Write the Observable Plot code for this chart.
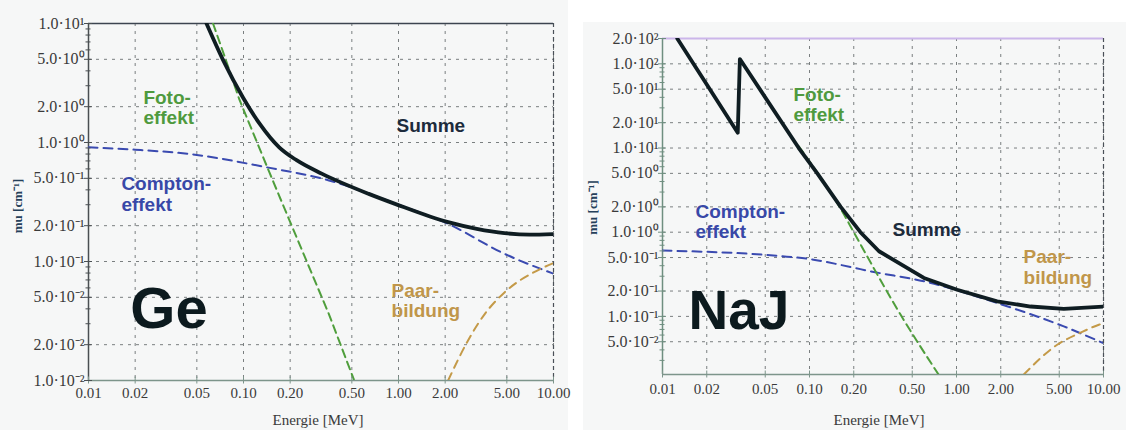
<!DOCTYPE html>
<html><head><meta charset="utf-8">
<script src="https://cdn.jsdelivr.net/npm/d3@7"></script>
<script src="https://cdn.jsdelivr.net/npm/@observablehq/plot@0.6"></script>
<style>
html,body{margin:0;padding:0;background:#fff;width:1126px;height:430px;overflow:hidden;}
#left{position:absolute;left:0;top:0;}
#right{position:absolute;left:583px;top:22px;}
</style></head><body>
<div id="left"></div><div id="right"></div>
<script>
// ---- shared x axis ----
const xTicks = [0.01, 0.02, 0.05, 0.1, 0.2, 0.5, 1, 2, 5, 10];
const xTickLabels = ["0.01", "0.02", "0.05", "0.10", "0.20", "0.50", "1.00", "2.00", "5.00", "10.00"];

// ---- Ge ----
const geYTicks = [10, 5, 2, 1, 0.5, 0.2, 0.1, 0.05, 0.02, 0.01];
const geYTickLabels = ["1.0·10¹", "5.0·10⁰", "2.0·10⁰", "1.0·10⁰", "5.0·10⁻¹", "2.0·10⁻¹", "1.0·10⁻¹", "5.0·10⁻²", "2.0·10⁻²", "1.0·10⁻²"];
const geSummeE  = [0.0577, 0.074, 0.099, 0.127, 0.170, 0.22, 0.322, 0.643, 0.95, 2.09, 3.2, 4.83, 7, 10];
const geSummeMu = [10, 4.9, 2.4, 1.44, 0.91, 0.71, 0.545, 0.37, 0.305, 0.214, 0.188, 0.173, 0.168, 0.17];
const geFotoE   = [0.0636, 0.0755, 0.094, 0.147, 0.197, 0.356, 0.515];
const geFotoMu  = [10, 5.3, 2.3, 0.56, 0.225, 0.036, 0.0102];
const geComptonE  = [0.01, 0.02, 0.045, 0.14, 0.356, 1.0, 2.09, 4.83, 10];
const geComptonMu = [0.91, 0.87, 0.80, 0.62, 0.48, 0.30, 0.207, 0.116, 0.079];
const gePaarE  = [2.09, 2.81, 3.59, 4.83, 8.3, 10];
const gePaarMu = [0.01, 0.0217, 0.036, 0.055, 0.087, 0.097];
const geNotes = [
  {key: "foto", label: "Foto-\neffekt", E: 0.0226, mu: 1.97},
  {key: "compton", label: "Compton-\neffekt", E: 0.0163, mu: 0.369},
  {key: "summe", label: "Summe", E: 0.971, mu: 1.39},
  {key: "paar", label: "Paar-\nbildung", E: 0.902, mu: 0.047}
];
const geTitle = [{label: "Ge", E: 0.0186, mu: 0.0395}];

// ---- NaJ ----
const najYTicks = [200, 100, 50, 20, 10, 5, 2, 1, 0.5, 0.2, 0.1, 0.05];
const najYTickLabels = ["2.0·10²", "1.0·10²", "5.0·10¹", "2.0·10¹", "1.0·10¹", "5.0·10⁰", "2.0·10⁰", "1.0·10⁰", "5.0·10⁻¹", "2.0·10⁻¹", "1.0·10⁻¹", "5.0·10⁻²"];
const najSummeE  = [0.0126, 0.0325, 0.0336, 0.0845, 0.113, 0.163, 0.222, 0.297, 0.6, 1.01, 1.89, 3.19, 5.37, 10];
const najSummeMu = [200, 15.2, 114, 10, 5, 2, 1, 0.594, 0.286, 0.207, 0.151, 0.131, 0.123, 0.131];
const najFotoE   = [0.0845, 0.113, 0.163, 0.2, 0.416, 0.783];
const najFotoMu  = [10.5, 5.1, 1.9, 1.0, 0.105, 0.0185];
const najComptonE  = [0.01, 0.0636, 0.1, 0.19, 0.26, 0.6, 1.89, 5.37, 10];
const najComptonMu = [0.605, 0.52, 0.48, 0.386, 0.343, 0.261, 0.144, 0.076, 0.048];
const najPaarE  = [2.87, 4.84, 6.98, 9.3, 10];
const najPaarMu = [0.0204, 0.046, 0.064, 0.0796, 0.083];
const najNotes = [
  {key: "foto", label: "Foto-\neffekt", E: 0.0778, mu: 33},
  {key: "compton", label: "Compton-\neffekt", E: 0.01677, mu: 1.35},
  {key: "summe", label: "Summe", E: 0.367, mu: 1.086},
  {key: "paar", label: "Paar-\nbildung", E: 2.86, mu: 0.388}
];
const najTitle = [{label: "NaJ", E: 0.01503, mu: 0.115}];

// ---- styles ----
const lineStyle = {
  summe:   {stroke: "#0f1d22", strokeWidth: 3.8},
  foto:    {stroke: "#4f9e3c", strokeWidth: 2, strokeDasharray: "8,5"},
  compton: {stroke: "#3a4ab0", strokeWidth: 2, strokeDasharray: "9,6"},
  paar:    {stroke: "#c49a48", strokeWidth: 2, strokeDasharray: "8,6"}
};
const noteColor = {foto: "#4f9a3e", compton: "#3848a8", summe: "#1c2b3c", paar: "#c0964a"};
const sans = "'Liberation Sans', Arial, Helvetica, sans-serif";
const serif = "'Liberation Serif', 'Times New Roman', serif";

const rows = (E, mu) => E.map((e, i) => ({E: e, mu: mu[i]}));

function chart(cfg) {
  const minor = [];
  for (let k = -3; k <= 3; k++) for (const m of [3, 4, 6, 7, 8, 9]) {
    const v = m * Math.pow(10, k);
    if (v > cfg.yDomain[0] && v < cfg.yDomain[1]) minor.push(v);
  }
  const grid = {stroke: "#7a7f80", strokeOpacity: 1, strokeDasharray: "3,5", strokeWidth: 1};
  const marks = [
    Plot.gridX(xTicks, grid),
    Plot.gridY(cfg.yTicks, grid),
    Plot.ruleY([cfg.yDomain[1]], {stroke: cfg.topColor, strokeWidth: cfg.topWidth}),
    Plot.ruleX([10], {stroke: "#4a5058", strokeDasharray: "4,3", strokeWidth: 1.2}),
    Plot.ruleX([0.01], {stroke: cfg.leftColor, strokeWidth: 1.5}),
    Plot.ruleY([cfg.yDomain[0]], {stroke: cfg.bottomColor, strokeWidth: 1.5}),
  ];
  for (const s of cfg.series) {
    marks.push(Plot.line(s.data, {x: "E", y: "mu", ...lineStyle[s.key], curve: s.curve || "linear", clip: true}));
  }
  for (const n of cfg.notes) {
    marks.push(Plot.text([n], {x: "E", y: "mu", text: "label", fill: noteColor[n.key], textAnchor: "start",
      lineAnchor: "middle", lineHeight: 1.08, fontFamily: sans, fontWeight: "bold", fontSize: 19}));
  }
  marks.push(Plot.text(cfg.title, {x: "E", y: "mu", text: "label", fill: "#0c1a1e", textAnchor: "start",
    lineAnchor: "middle", fontFamily: sans, fontWeight: "bold", fontSize: cfg.titleSize}));
  // axes
  marks.push(
    Plot.axisX(xTicks, {anchor: "bottom", tickSize: 0, tickPadding: cfg.xPad, text: xTickLabels, label: null, fill: "#3a3a3a", fontSize: 15}),
    Plot.axisX(xTicks, {anchor: "bottom", tickSize: 7, dy: -3.5, fill: "none", stroke: cfg.bottomColor, label: null}),
    Plot.axisY(cfg.yTicks, {anchor: "left", tickSize: 0, tickPadding: cfg.yPad, text: cfg.yTickLabels, label: null, fill: "#3a3a3a", fontSize: 16}),
    Plot.axisY(cfg.yTicks, {anchor: "left", tickSize: 8, dx: 4, fill: "none", stroke: cfg.leftColor, label: null}),
    Plot.axisY(minor, {anchor: "left", tickSize: 5, dx: 2.5, fill: "none", stroke: cfg.leftColor, label: null}),
    Plot.text(["mu [cm⁻¹]"], {frameAnchor: "left", dx: -cfg.yLabelOffset, dy: cfg.yLabelDy, rotate: -90, fill: "#25405a",
      fontFamily: serif, fontWeight: "bold", fontSize: 13, textAnchor: "middle", lineAnchor: "middle"}),
    Plot.text(["Energie [MeV]"], {frameAnchor: "bottom", dy: cfg.xLabelDy, dx: cfg.xLabelDx, fill: "#3a3a3a",
      fontFamily: serif, fontSize: 15, textAnchor: "middle", lineAnchor: "middle"})
  );
  return Plot.plot({
    width: cfg.width, height: cfg.height,
    marginLeft: cfg.margin[0], marginRight: cfg.margin[1], marginTop: cfg.margin[2], marginBottom: cfg.margin[3],
    style: {background: "#f6f7f7", fontFamily: serif, fontSize: "15px", color: "#333", overflow: "visible"},
    x: {type: "log", domain: [0.01, 10]},
    y: {type: "log", domain: cfg.yDomain},
    marks
  });
}

document.getElementById("left").append(chart({
  width: 568, height: 430, margin: [88, 15, 23, 50],
  yDomain: [0.01, 10], yTicks: geYTicks, yTickLabels: geYTickLabels,
  topColor: "#3c4450", topWidth: 1.6, leftColor: "#4a4f52", bottomColor: "#7d958b",
  xPad: 7, yPad: 4, yLabelOffset: 71, yLabelDy: 4, xLabelDy: 39.5, xLabelDx: -3,
  titleSize: 58,
  series: [
    {key: "compton", data: rows(geComptonE, geComptonMu), curve: "monotone-x"},
    {key: "foto", data: rows(geFotoE, geFotoMu)},
    {key: "paar", data: rows(gePaarE, gePaarMu), curve: "monotone-x"},
    {key: "summe", data: rows(geSummeE, geSummeMu), curve: "monotone-x"}
  ],
  notes: geNotes, title: geTitle
}));

document.getElementById("right").append(chart({
  width: 543, height: 408, margin: [79, 23, 16, 56],
  yDomain: [0.0204, 200], yTicks: najYTicks, yTickLabels: najYTickLabels,
  topColor: "#cbb6ea", topWidth: 2, leftColor: "#6f8f80", bottomColor: "#7d958b",
  xPad: 9, yPad: 4, yLabelOffset: 70, yLabelDy: 1, xLabelDy: 46, xLabelDx: -4,
  titleSize: 55,
  series: [
    {key: "compton", data: rows(najComptonE, najComptonMu), curve: "monotone-x"},
    {key: "foto", data: rows(najFotoE, najFotoMu), curve: "monotone-x"},
    {key: "paar", data: rows(najPaarE, najPaarMu), curve: "monotone-x"},
    {key: "summe", data: rows(najSummeE, najSummeMu)}
  ],
  notes: najNotes, title: najTitle
}));
</script>
</body></html>
